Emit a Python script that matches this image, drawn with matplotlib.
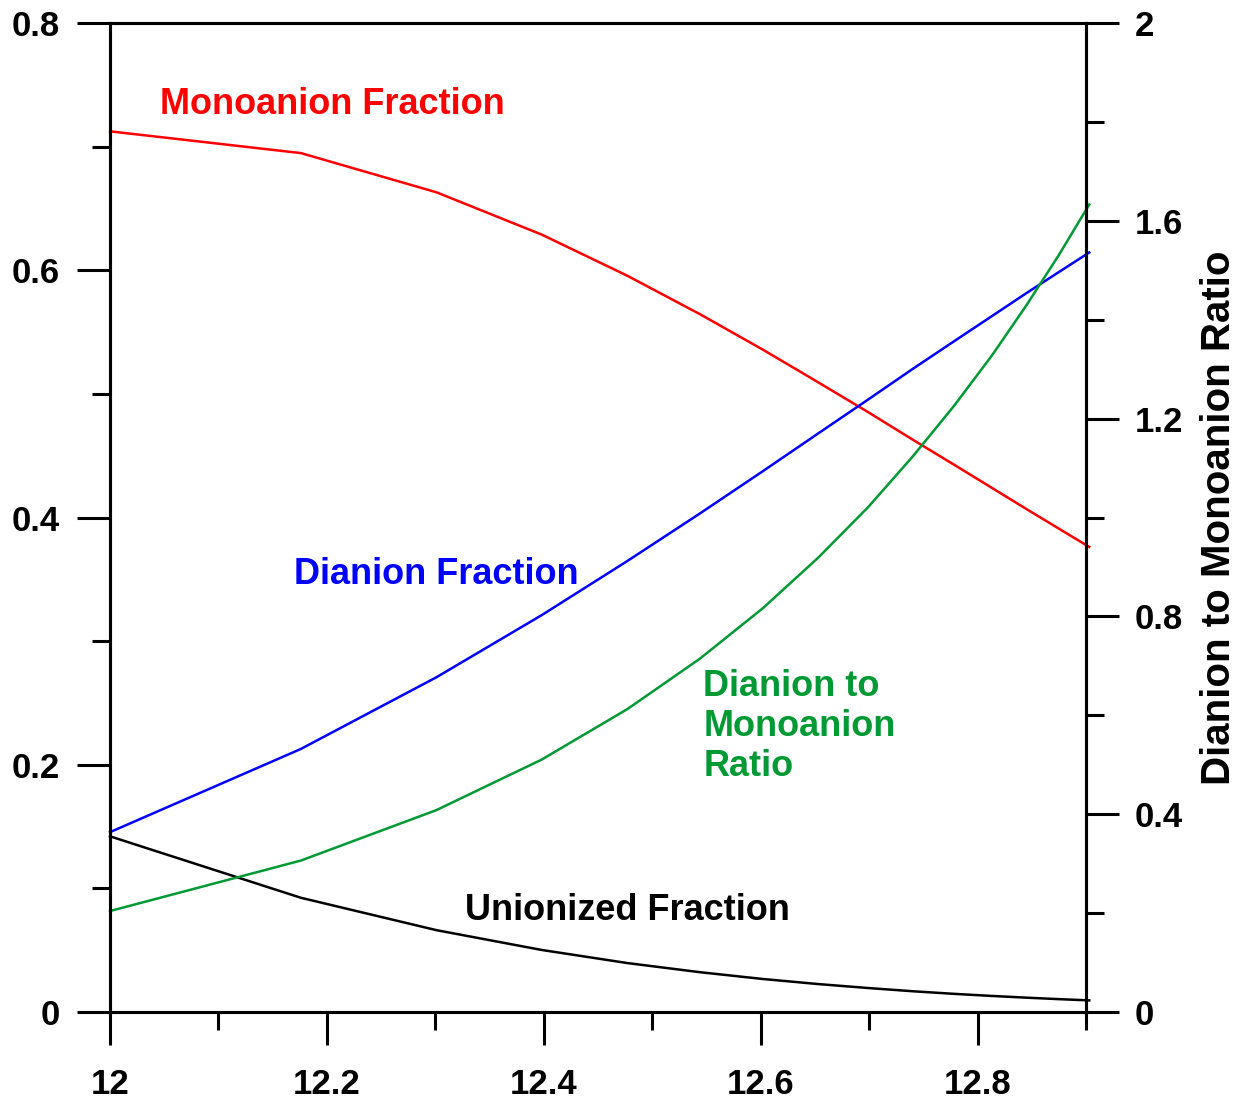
import matplotlib
matplotlib.use("Agg")
import matplotlib.pyplot as plt
from matplotlib.ticker import MultipleLocator

plt.rcParams['font.family'] = ['Liberation Sans', 'DejaVu Sans']
plt.rcParams['font.weight'] = 'bold'

# pH values
ph = [12.000, 12.176, 12.301, 12.398, 12.477, 12.544, 12.602, 12.653,
      12.699, 12.740, 12.778, 12.813, 12.845, 12.875, 12.903]

unionized = [0.1421, 0.0924, 0.0662, 0.0502, 0.0396, 0.0322, 0.0267, 0.0226,
             0.0194, 0.0168, 0.0147, 0.0130, 0.0116, 0.0104, 0.0094]
monoanion = [0.7124, 0.6948, 0.6631, 0.6289, 0.5956, 0.5645, 0.5358, 0.5094,
             0.4853, 0.4631, 0.4429, 0.4241, 0.4069, 0.3910, 0.3762]
dianion = [0.1455, 0.2128, 0.2708, 0.3210, 0.3648, 0.4033, 0.4375, 0.4680,
           0.4954, 0.5201, 0.5424, 0.5628, 0.5815, 0.5986, 0.6144]
ratio = [0.2042, 0.3063, 0.4083, 0.5104, 0.6125, 0.7146, 0.8166, 0.9187,
         1.0208, 1.1229, 1.2250, 1.3270, 1.4290, 1.5310, 1.6330]

red = '#ff0000'
blue = '#0000ff'
green = '#009933'

fig = plt.figure(figsize=(12.42, 11.03), dpi=100)
ax = fig.add_axes([0.0886, 0.0825, 0.7858, 0.8966])
ax2 = ax.twinx()

lw = 1.8
ax.plot(ph, monoanion, color=red, lw=lw, clip_on=False)
ax.plot(ph, dianion, color=blue, lw=lw, clip_on=False)
ax.plot(ph, unionized, color='black', lw=lw, clip_on=False)
ax2.plot(ph, ratio, color=green, lw=lw, clip_on=False)

ax.set_xlim(12, 12.9)
ax.set_ylim(0, 0.8)
ax2.set_ylim(0, 2)

for a in (ax, ax2):
    for s in a.spines.values():
        s.set_linewidth(2.2)

ax.xaxis.set_minor_locator(MultipleLocator(0.1))
ax.yaxis.set_minor_locator(MultipleLocator(0.1))
ax2.yaxis.set_minor_locator(MultipleLocator(0.2))

ax.set_xticks([12, 12.2, 12.4, 12.6, 12.8])
ax.set_xticklabels(['12', '12.2', '12.4', '12.6', '12.8'])
ax.set_yticks([0, 0.2, 0.4, 0.6, 0.8])
ax.set_yticklabels(['0', '0.2', '0.4', '0.6', '0.8'])
ax2.set_yticks([0, 0.4, 0.8, 1.2, 1.6, 2])
ax2.set_yticklabels(['0', '0.4', '0.8', '1.2', '1.6', '2'])

ax.tick_params(axis='both', which='major', direction='out', length=24,
               width=2.2, labelsize=25, top=False, right=False)
ax.tick_params(axis='both', which='minor', direction='out', length=13,
               width=2.2, top=False, right=False)
ax.tick_params(axis='x', which='major', pad=16)
ax.tick_params(axis='y', which='major', pad=12)
ax2.tick_params(axis='y', which='major', direction='out', length=24,
                width=2.2, labelsize=25, pad=11)
ax2.tick_params(axis='y', which='minor', direction='out', length=13, width=2.2)

ax2.set_ylabel('Dianion to Monoanion Ratio', fontsize=29, fontweight='bold',
               labelpad=12)

# series labels placed beside their curves
ax.text(12.046, 0.734, 'Monoanion Fraction', color=red, fontsize=26,
        fontweight='bold', va='center', ha='left')
ax.text(12.170, 0.354, 'Dianion Fraction', color=blue, fontsize=26,
        fontweight='bold', va='center', ha='left')
ax.text(12.547, 0.231, 'Dianion to\nMonoanion\nRatio', color=green,
        fontsize=26, fontweight='bold', va='center', ha='left',
        linespacing=1.2)
ax.text(12.327, 0.082, 'Unionized Fraction', color='black', fontsize=26,
        fontweight='bold', va='center', ha='left')

fig.savefig('out.png', dpi=100)
